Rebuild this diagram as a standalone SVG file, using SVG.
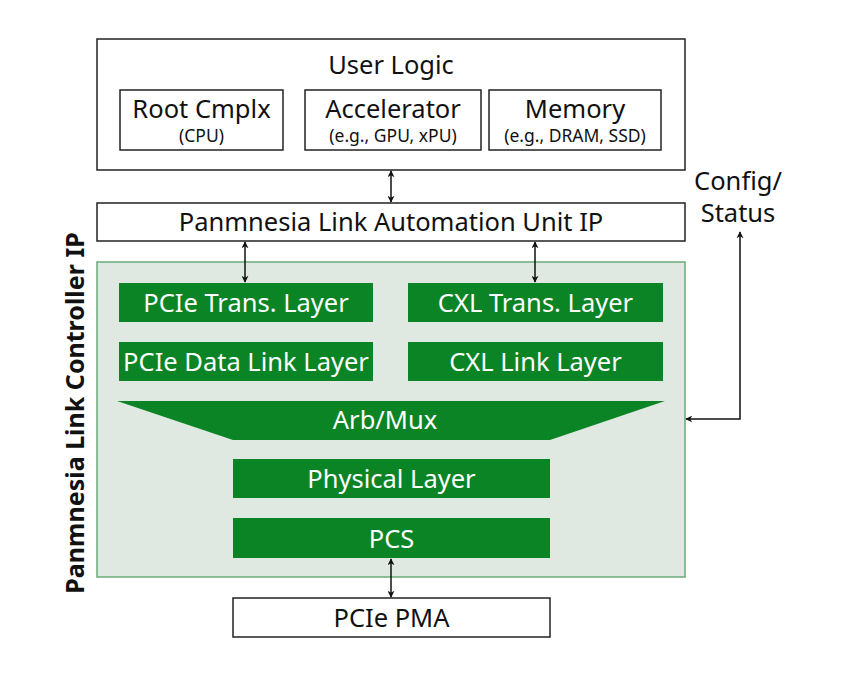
<svg xmlns="http://www.w3.org/2000/svg" width="843" height="682" viewBox="0 0 843 682">
<style>
text{font-family:"Noto Sans","Open Sans","DejaVu Sans",sans-serif;text-anchor:middle}
.wb{fill:#fff;stroke:#222;stroke-width:1.5}
.g{fill:#0b8426}
.gt{fill:#fff;font-size:25.5px}
.bt{fill:#111;font-size:25.5px}
.st{fill:#111;font-size:17.5px}
.c{stroke:#111;stroke-width:1.5;fill:none;marker-start:url(#a);marker-end:url(#a)}
</style>
<defs>
<marker id="a" viewBox="0 0 10 10" refX="9" refY="5" markerWidth="7" markerHeight="7" orient="auto-start-reverse" markerUnits="userSpaceOnUse">
<path d="M0,0 L10,5 L0,10 L3,5 Z" fill="#111"/>
</marker>
</defs>
<rect width="843" height="682" fill="#fff"/>
<g id="user-logic">
<rect class="wb" x="97" y="39" width="588" height="131"/>
<text class="bt" x="391" y="74">User Logic</text>
</g>
<g id="root-cmplx">
<rect class="wb" x="120" y="90" width="163" height="60"/>
<text class="bt" x="201.5" y="118">Root Cmplx</text>
<text class="st" x="201.5" y="142">(CPU)</text>
</g>
<g id="accelerator">
<rect class="wb" x="305" y="90" width="176" height="60"/>
<text class="bt" x="393" y="118">Accelerator</text>
<text class="st" x="393" y="142">(e.g., GPU, xPU)</text>
</g>
<g id="memory">
<rect class="wb" x="489" y="90" width="172" height="60"/>
<text class="bt" x="575" y="118">Memory</text>
<text class="st" x="575" y="142">(e.g., DRAM, SSD)</text>
</g>
<g id="link-automation">
<rect class="wb" x="97" y="203" width="588" height="38"/>
<text class="bt" x="391" y="231">Panmnesia Link Automation Unit IP</text>
</g>
<g id="link-controller">
<rect x="97" y="262" width="588" height="315" fill="#dfe9e1" stroke="#6aaa78" stroke-width="1.5"/>
<text x="75" y="413" font-size="25" font-weight="bold" fill="#111" transform="rotate(-90 75 413)" dy="9">Panmnesia Link Controller IP</text>
</g>
<g id="pcie-trans">
<rect class="g" x="119" y="283" width="254" height="39"/>
<text class="gt" x="246" y="312">PCIe Trans. Layer</text>
</g>
<g id="cxl-trans">
<rect class="g" x="408" y="283" width="255" height="39"/>
<text class="gt" x="535.5" y="312">CXL Trans. Layer</text>
</g>
<g id="pcie-dll">
<rect class="g" x="119" y="342" width="254" height="39"/>
<text class="gt" x="246" y="371">PCIe Data Link Layer</text>
</g>
<g id="cxl-link">
<rect class="g" x="408" y="342" width="255" height="39"/>
<text class="gt" x="535.5" y="371">CXL Link Layer</text>
</g>
<g id="arb-mux">
<polygon class="g" points="117,401 665,401 550,440 233,440"/>
<text class="gt" x="385" y="429" font-size="24">Arb/Mux</text>
</g>
<g id="physical">
<rect class="g" x="233" y="459" width="317" height="39"/>
<text class="gt" x="391.5" y="488">Physical Layer</text>
</g>
<g id="pcs">
<rect class="g" x="233" y="518" width="317" height="40"/>
<text class="gt" x="391.5" y="548">PCS</text>
</g>
<g id="pcie-pma">
<rect class="wb" x="233" y="598" width="317" height="39"/>
<text class="bt" x="391.5" y="627">PCIe PMA</text>
</g>
<g id="config-status">
<text class="bt" x="738" y="190" font-size="22">Config/</text>
<text class="bt" x="738" y="222" font-size="22">Status</text>
</g>
<g id="connectors">
<path class="c" d="M391,171 L391,202"/>
<path class="c" d="M245,242 L245,282"/>
<path class="c" d="M535,242 L535,282"/>
<path class="c" d="M391,559 L391,597"/>
<path class="c" d="M740,232 L740,419 L686,419"/>
</g>
</svg>
